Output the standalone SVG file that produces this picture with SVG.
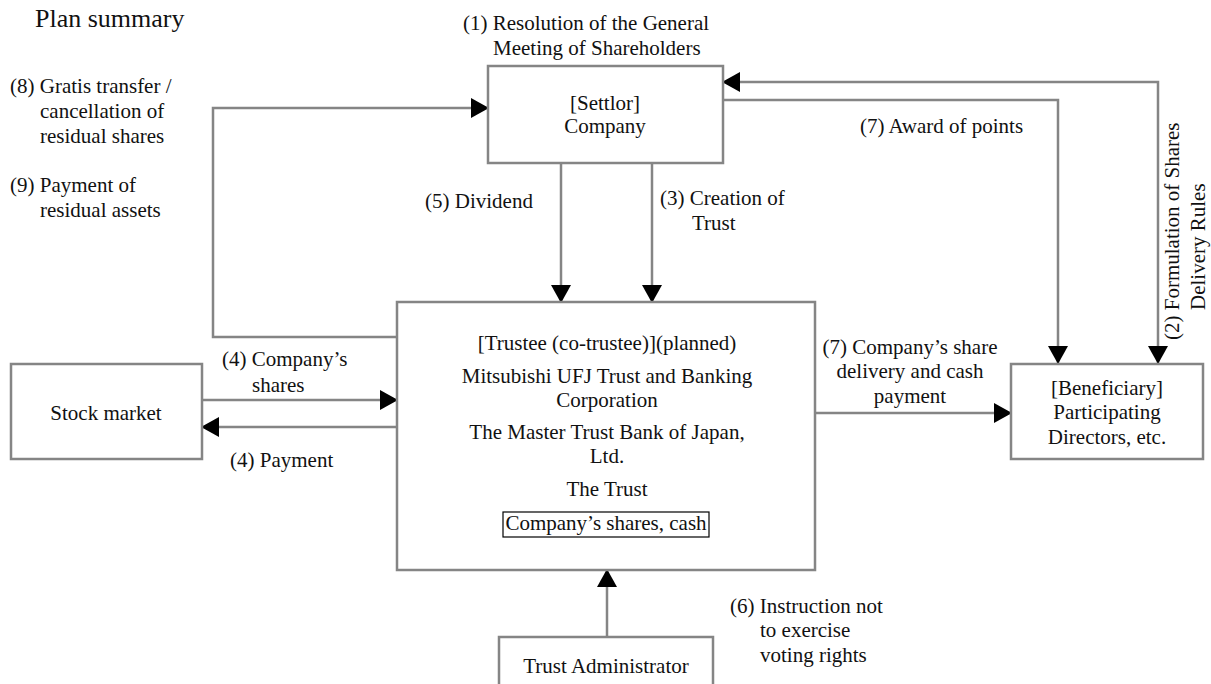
<svg xmlns="http://www.w3.org/2000/svg" width="1211" height="684" viewBox="0 0 1211 684">
<style>
text{font-family:"Liberation Serif","Tinos","DejaVu Serif",serif;font-size:21px;fill:#111}
.c{text-anchor:middle}
.box{fill:#fff;stroke:#858585;stroke-width:2.5}
.ln{fill:none;stroke:#858585;stroke-width:2.5}
.arr{marker-end:url(#ah)}
</style>
<defs>
<marker id="ah" markerUnits="userSpaceOnUse" markerWidth="20" markerHeight="22" refX="17" refY="10" orient="auto-start-reverse" viewBox="0 0 20 22">
<path d="M0,0 L18,10 L0,20 z" fill="#000"/>
</marker>
</defs>
<rect width="1211" height="684" fill="#fff"/>
<text x="35" y="27" style="font-size:26px">Plan summary</text>

<g id="connectors">
<path class="ln arr" d="M561,163 V302"/>
<path class="ln arr" d="M652,163 V302"/>
<path class="ln arr" d="M397,337 H213 V108 H488"/>
<path class="ln arr" d="M1158,363 V82 H723" style="marker-start:url(#ah)"/>
<path class="ln arr" d="M723,100 H1058 V363"/>
<path class="ln arr" d="M202,400 H397"/>
<path class="ln arr" d="M397,427 H202"/>
<path class="ln arr" d="M815,413 H1011"/>
<path class="ln arr" d="M607,637 V570"/>
</g>

<g id="settlor">
<rect class="box" x="488" y="66" width="235" height="97"/>
<text class="c" x="605" y="110">[Settlor]</text>
<text class="c" x="605" y="133">Company</text>
</g>

<g id="trustee">
<rect class="box" x="397" y="302" width="418" height="268"/>
<text class="c" x="607" y="350">[Trustee (co-trustee)](planned)</text>
<text class="c" x="607" y="383">Mitsubishi UFJ Trust and Banking</text>
<text class="c" x="607" y="407">Corporation</text>
<text class="c" x="607" y="439">The Master Trust Bank of Japan,</text>
<text class="c" x="607" y="463">Ltd.</text>
<text class="c" x="607" y="496">The Trust</text>
<rect x="503" y="512" width="206" height="25" fill="none" stroke="#000" stroke-width="1.2"/>
<text class="c" x="606" y="530">Company’s shares, cash</text>
</g>

<g id="stock-market">
<rect class="box" x="11" y="364" width="191" height="95"/>
<text class="c" x="106" y="420">Stock market</text>
</g>

<g id="beneficiary">
<rect class="box" x="1011" y="364" width="192" height="95"/>
<text class="c" x="1107" y="395">[Beneficiary]</text>
<text class="c" x="1107" y="419">Participating</text>
<text class="c" x="1107" y="444">Directors, etc.</text>
</g>

<g id="trust-administrator">
<rect class="box" x="499" y="637" width="214" height="60"/>
<text class="c" x="606" y="673">Trust Administrator</text>
</g>

<g id="labels">
<text x="463" y="30">(1) Resolution of the General</text>
<text x="493" y="55">Meeting of Shareholders</text>
<text x="10" y="93">(8) Gratis transfer /</text>
<text x="40" y="118">cancellation of</text>
<text x="40" y="143">residual shares</text>
<text x="10" y="192">(9) Payment of</text>
<text x="40" y="217">residual assets</text>
<text x="425" y="208">(5) Dividend</text>
<text x="660" y="205">(3) Creation of</text>
<text x="692" y="230">Trust</text>
<text x="860" y="133">(7) Award of points</text>
<text x="1179" y="340" transform="rotate(-90 1179 340)">(2) Formulation of Shares</text>
<text x="1205" y="310" transform="rotate(-90 1205 310)">Delivery Rules</text>
<text class="c" x="910" y="354">(7) Company’s share</text>
<text class="c" x="910" y="378">delivery and cash</text>
<text class="c" x="910" y="403">payment</text>
<text x="222" y="366">(4) Company’s</text>
<text x="252" y="392">shares</text>
<text x="230" y="467">(4) Payment</text>
<text x="730" y="613">(6) Instruction not</text>
<text x="760" y="637">to exercise</text>
<text x="760" y="662">voting rights</text>
</g>
</svg>
